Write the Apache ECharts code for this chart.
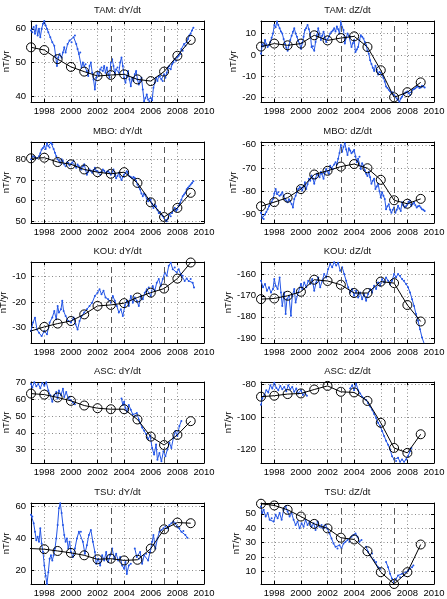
<!DOCTYPE html>
<html>
<head>
<meta charset="utf-8">
<script src="https://cdn.jsdelivr.net/npm/echarts@6/dist/echarts.min.js"></script>
<style>
html, body { margin: 0; padding: 0; background: #fff; }
#main { width: 447px; height: 599px; }
</style>
</head>
<body>
<div id="main"></div>
<script>
// annual means (circles) and monthly series (blue)
var annualYears = [1997, 1998, 1999, 2000, 2001, 2002, 2003, 2004, 2005, 2006, 2007, 2008, 2009];
var lateYears = [1996, 1998, 1999, 2000, 2001, 2002, 2003, 2004, 2005, 2006, 2007, 2008, 2009];
var xTicks = [1998, 2000, 2002, 2004, 2006, 2008, 2010];
var eventYears = [2003, 2007];

var tamDYAnnual = [54.5, 53.7, 51, 48.7, 47.3, 46, 46.3, 46.5, 45, 44.5, 47.3, 52, 56.7];
var tamDZAnnual = [3.9, 5.3, 4.5, 5.3, 9.2, 6.8, 7.9, 8.7, 3.7, -7.2, -19.9, -17.5, -12.9];
var mboDYAnnual = [80.5, 80.8, 78.7, 77.6, 75.1, 73.8, 73, 73.8, 68.6, 59.2, 52.1, 56.5, 63.8];
var mboDZAnnual = [-86.5, -84.7, -82.8, -79.1, -72.8, -71.2, -69.4, -68.3, -70.1, -75.1, -83.9, -85.4, -83.3];
var kouDYAnnual = [-32.9, -29.7, -28.4, -27.4, -24.8, -21.5, -21.1, -20.4, -18.2, -16.3, -14.7, -10.8, -4.5];
var kouDZAnnual = [-171.6, -171.3, -170, -168.1, -162.4, -163, -164.8, -168.7, -168.7, -163.3, -164, -174.4, -182.2];
var ascDYAnnual = [63.3, 62.7, 61, 59, 56.2, 54.6, 54, 54, 47.9, 37.7, 32.7, 38.7, 46.9];
var ascDZAnnual = [-87.6, -87, -86, -85.6, -83.2, -81, -84.6, -85, -90.2, -103.6, -119, -122, -110.6];
var tsuDYAnnual = [34.1, 33.3, 32.2, 31, 29.5, 27, 27.4, 26.3, 26.7, 33.7, 45.7, 49.9, 49.5];
var tsuDZAnnual = [57, 55.8, 52.8, 48.1, 43, 39.9, 33.4, 32.2, 24, 9.5, 1.3, 9.5, 28.7];

var tamDYMonthly = [[1997.0,59.5],[1997.1,59],[1997.2,60.5],[1997.3,58.5],[1997.4,61],[1997.5,58],[1997.6,60],[1997.7,57.5],[1997.8,60],[1997.9,61.5],[1998.0,62.3],[1998.1,61],[1998.2,60],[1998.3,59],[1998.45,57.5],[1998.6,56],[1998.75,55],[1998.85,52],[1998.95,49],[1999.05,51.5],[1999.15,52.5],[1999.3,51.5],[1999.4,53],[1999.5,54.5],[1999.6,53],[1999.75,55.5],[1999.9,56.5],[2000.05,56],[2000.2,57.5],[2000.3,58],[2000.4,55.5],[2000.5,54],[2000.6,52.5],[2000.7,53],[2000.8,48.5],[2000.9,50],[2001.0,49],[2001.1,49.5],[2001.2,47.5],[2001.3,46],[2001.4,49],[2001.5,50],[2001.6,47],[2001.7,45],[2001.8,42],[2001.9,45.5],[2002.0,47],[2002.1,46],[2002.2,48],[2002.3,48.5],[2002.4,47.5],[2002.5,49],[2002.6,47],[2002.7,48.5],[2002.8,46.5],[2002.9,45.5],[2003.0,50],[2003.1,51],[2003.2,49],[2003.3,46.5],[2003.4,48],[2003.5,48.5],[2003.6,47],[2003.7,50],[2003.8,51.5],[2003.9,49],[2004.0,45.5],[2004.1,44],[2004.2,46],[2004.3,47.5],[2004.4,45],[2004.5,43],[2004.6,45.5],[2004.7,44.5],[2004.8,46.5],[2004.9,47.5],[2005.0,45],[2005.1,43.5],[2005.2,44.5],[2005.3,45.5],[2005.4,42],[2005.5,38.5],[2005.6,39.5],[2005.7,40.5],[2005.8,39],[2005.9,38.5],[2006.0,39.5],[2006.1,38.8],[2006.2,42.5],[2006.3,44],[2006.4,45.5],[2006.5,44.5],[2006.6,46],[2006.7,46],[2006.8,45],[2006.9,44.5],[2007.0,46.5],[2007.1,45.5],[2007.2,47],[2007.3,48.5],[2007.4,49],[2007.5,48],[2007.6,49.5],[2007.7,50],[2007.8,51],[2007.9,50.5],[2008.0,51.5],[2008.1,52],[2008.2,52.5],[2008.3,54],[2008.4,53.5],[2008.5,55.5],[2008.6,55],[2008.7,56],[2008.8,57],[2008.9,58],[2009.0,58.5],[2009.1,59.5],[2009.2,60.3]];

var tamDZMonthly = [[1997.0,0.5],[1997.1,5],[1997.2,4],[1997.3,7],[1997.4,5],[1997.5,3.7],[1997.6,4.5],[1997.7,6],[1997.8,8],[1997.9,10],[1998.0,14],[1998.1,13],[1998.2,15.7],[1998.3,14],[1998.4,12.5],[1998.5,11],[1998.6,10],[1998.7,7.5],[1998.8,5.3],[1998.9,3.5],[1999.0,2],[1999.1,4.5],[1999.2,7],[1999.3,9],[1999.4,10.8],[1999.5,12.5],[1999.6,10],[1999.7,8.5],[1999.8,6.5],[1999.9,5.3],[2000.0,2.9],[2000.1,5.5],[2000.2,8.5],[2000.3,11.7],[2000.4,12.5],[2000.5,14],[2000.6,12],[2000.7,10],[2000.8,3.7],[2000.9,4],[2001.0,2],[2001.1,6],[2001.2,9.2],[2001.3,12.5],[2001.4,10],[2001.5,7],[2001.6,9],[2001.7,10.8],[2001.8,8],[2001.9,6],[2002.0,7.5],[2002.1,8.5],[2002.2,10],[2002.3,10.8],[2002.4,11.5],[2002.5,12.5],[2002.6,11],[2002.7,13.3],[2002.8,12],[2002.9,10],[2003.0,15.7],[2003.1,13],[2003.2,11.7],[2003.3,5.3],[2003.4,8],[2003.5,10],[2003.6,9],[2003.7,8.5],[2003.8,3.7],[2003.9,5.5],[2004.0,7],[2004.1,1.3],[2004.2,2.5],[2004.3,3.7],[2004.4,7],[2004.5,9.2],[2004.6,8.5],[2004.7,7.7],[2004.8,6],[2004.9,4.5],[2005.0,2],[2005.1,0.5],[2005.2,-2.5],[2005.3,-4.3],[2005.4,-6],[2005.5,-7.5],[2005.6,-5.1],[2005.7,-7],[2005.8,-9.2],[2005.9,-8],[2006.0,-8.4],[2006.1,-9.5],[2006.2,-10.8],[2006.3,-12.5],[2006.4,-14.8],[2006.5,-15.5],[2006.6,-16.4],[2006.7,-17],[2006.8,-18],[2006.9,-17.5],[2007.0,-18.8],[2007.1,-19.5],[2007.2,-20.5],[2007.3,-21],[2007.4,-22],[2007.5,-20.5],[2007.6,-19.6],[2007.7,-18.5],[2007.8,-18],[2007.9,-17.5],[2008.0,-17.2],[2008.1,-18],[2008.2,-18.8],[2008.3,-17.5],[2008.4,-16.4],[2008.5,-16],[2008.6,-15.6],[2008.7,-15],[2008.8,-14.8],[2008.9,-15.5],[2009.0,-15.3],[2009.1,-14.5],[2009.2,-14.8],[2009.3,-15.3]];

var mboDYMonthly = [[1997.0,80],[1997.15,81.5],[1997.3,81],[1997.45,80.5],[1997.6,81.5],[1997.7,83],[1997.8,84.8],[1997.9,85.5],[1998.0,86.5],[1998.1,85],[1998.2,87.8],[1998.3,86.5],[1998.4,85.7],[1998.5,88],[1998.6,87.3],[1998.7,85],[1998.8,83.2],[1998.9,81.5],[1999.0,80],[1999.1,79.5],[1999.2,78.4],[1999.3,80],[1999.4,79.2],[1999.5,77.5],[1999.6,76.7],[1999.7,78.5],[1999.8,78.4],[1999.9,77],[2000.0,77.6],[2000.1,78.5],[2000.2,79.2],[2000.3,77],[2000.4,75.9],[2000.5,77.5],[2000.6,76.7],[2000.7,75.5],[2000.8,75.1],[2000.9,76.5],[2001.0,77.6],[2001.1,75],[2001.2,72.6],[2001.3,74],[2001.4,75.1],[2001.5,74.5],[2001.6,73.5],[2001.7,74.8],[2001.8,75.9],[2001.9,74.5],[2002.0,74.3],[2002.1,73.5],[2002.2,72.6],[2002.3,74],[2002.4,75.1],[2002.5,74.5],[2002.6,73.5],[2002.7,74],[2002.8,74.3],[2002.9,73.5],[2003.0,72.6],[2003.1,74],[2003.2,75.1],[2003.3,72.5],[2003.4,70.8],[2003.5,72],[2003.6,73.5],[2003.7,71.5],[2003.8,70],[2003.9,71.5],[2004.0,72.6],[2004.1,73.5],[2004.2,74.3],[2004.3,73],[2004.4,71.8],[2004.5,71.5],[2004.6,70.8],[2004.7,71.5],[2004.8,71],[2004.9,69.5],[2005.0,67.8],[2005.1,66.5],[2005.2,65.4],[2005.3,63.5],[2005.4,62.2],[2005.5,63.5],[2005.6,62.9],[2005.7,61],[2005.8,59.7],[2005.9,61],[2006.0,60.5],[2006.1,58.5],[2006.2,56.5],[2006.3,58],[2006.4,57.3],[2006.5,55.5],[2006.6,54],[2006.7,54.5],[2006.8,53.3],[2006.9,52.5],[2007.0,51.6],[2007.1,50.5],[2007.2,50],[2007.3,51.5],[2007.4,53.3],[2007.5,52.5],[2007.6,54],[2007.7,55.5],[2007.8,56.5],[2007.9,55],[2008.0,55.7],[2008.1,57.5],[2008.2,58.9],[2008.3,60.5],[2008.4,62.2],[2008.5,63],[2008.6,63.8],[2008.7,65.5],[2008.8,66.3],[2008.9,67],[2009.0,67.8],[2009.1,68.5],[2009.2,69.4]];

var mboDZMonthly = [[1997.0,-89.3],[1997.1,-91.5],[1997.2,-92],[1997.3,-90],[1997.4,-89],[1997.5,-87.8],[1997.6,-86.5],[1997.7,-85.6],[1997.8,-84.5],[1997.9,-83.4],[1998.0,-81],[1998.1,-79],[1998.2,-81.2],[1998.3,-80.5],[1998.4,-82],[1998.5,-81.5],[1998.6,-80.4],[1998.7,-82],[1998.8,-83.4],[1998.9,-84],[1999.0,-84.8],[1999.1,-83.5],[1999.2,-84.1],[1999.3,-85.5],[1999.4,-87],[1999.5,-83.4],[1999.6,-82],[1999.7,-80.4],[1999.8,-79],[1999.9,-78.2],[2000.0,-78.5],[2000.1,-79.7],[2000.2,-78],[2000.3,-76.1],[2000.4,-79],[2000.5,-77],[2000.6,-74.6],[2000.7,-75.5],[2000.8,-73.2],[2000.9,-74.5],[2001.0,-76.8],[2001.1,-74.5],[2001.2,-72.5],[2001.3,-73],[2001.4,-74],[2001.5,-71.7],[2001.6,-72.5],[2001.7,-74.6],[2001.8,-72],[2001.9,-70.4],[2002.0,-71.5],[2002.1,-72.5],[2002.2,-69],[2002.3,-70],[2002.4,-70.4],[2002.5,-68.5],[2002.6,-67.5],[2002.7,-68.5],[2002.8,-66],[2002.9,-63.5],[2003.0,-60.1],[2003.1,-63],[2003.2,-61],[2003.3,-59.3],[2003.4,-62],[2003.5,-64.4],[2003.6,-61.5],[2003.7,-62.5],[2003.8,-63.7],[2003.9,-63],[2004.0,-62.2],[2004.1,-65],[2004.2,-67.5],[2004.3,-66],[2004.4,-65.2],[2004.5,-70.4],[2004.6,-68],[2004.7,-69],[2004.8,-71],[2004.9,-72.5],[2005.0,-73.5],[2005.1,-71.7],[2005.2,-74],[2005.3,-76.8],[2005.4,-75.5],[2005.5,-74.6],[2005.6,-79],[2005.7,-78],[2005.8,-76.8],[2005.9,-80],[2006.0,-82.7],[2006.1,-80.4],[2006.2,-82],[2006.3,-83.4],[2006.4,-87.8],[2006.5,-86.5],[2006.6,-85.6],[2006.7,-88],[2006.8,-89.3],[2006.9,-88],[2007.0,-87],[2007.1,-89.3],[2007.2,-88],[2007.3,-86.3],[2007.4,-87.5],[2007.5,-88.5],[2007.6,-84.8],[2007.7,-86],[2007.8,-87],[2007.9,-86.5],[2008.0,-85.6],[2008.1,-84.5],[2008.2,-84.1],[2008.3,-86.3],[2008.4,-85.5],[2008.5,-84.8],[2008.6,-86],[2008.7,-87],[2008.8,-86.5],[2008.9,-86.3],[2009.0,-87],[2009.1,-87.8],[2009.2,-88],[2009.3,-88.5]];

var kouDYMonthly = [[1997.0,-31.3],[1997.15,-28],[1997.3,-26.1],[1997.45,-30.7],[1997.6,-32],[1997.8,-33.3],[1998.0,-31.3],[1998.2,-32.6],[1998.4,-28],[1998.6,-26],[1998.75,-23.5],[1998.9,-26.7],[1999.0,-21.5],[1999.1,-24.1],[1999.25,-22.8],[1999.35,-19.5],[1999.45,-23.5],[1999.6,-25.4],[1999.8,-27.4],[2000.0,-28],[2000.2,-26],[2000.35,-28.7],[2000.5,-30.7],[2000.65,-27.4],[2000.8,-25.4],[2001.0,-24.1],[2001.2,-22.8],[2001.4,-21.5],[2001.6,-20.2],[2001.8,-17.6],[2002.0,-16.3],[2002.15,-15],[2002.3,-16.9],[2002.45,-15.6],[2002.6,-18.2],[2002.8,-18.9],[2003.0,-20.2],[2003.15,-17.6],[2003.3,-19.5],[2003.45,-21.5],[2003.6,-24.1],[2003.75,-22.8],[2003.9,-25.4],[2004.05,-21.5],[2004.2,-19.5],[2004.35,-21.5],[2004.5,-17.6],[2004.65,-20.2],[2004.8,-18.2],[2004.95,-19.5],[2005.1,-21.5],[2005.25,-17.6],[2005.4,-18.9],[2005.55,-16.3],[2005.7,-15],[2005.85,-14.3],[2006.0,-17.6],[2006.15,-13.7],[2006.3,-15.6],[2006.45,-12.4],[2006.6,-11],[2006.75,-13.7],[2006.9,-11],[2007.05,-8.4],[2007.2,-9.7],[2007.35,-5.8],[2007.5,-4.6],[2007.65,-7.1],[2007.8,-6.5],[2007.95,-8.4],[2008.1,-7.1],[2008.25,-9.1],[2008.4,-9.7],[2008.55,-11.7],[2008.7,-10.8],[2008.85,-11.7],[2009.0,-11],[2009.15,-12.4],[2009.25,-14.3]];

var kouDZMonthly = [[1997.0,-162.9],[1997.15,-166],[1997.3,-164.4],[1997.45,-167.6],[1997.6,-166],[1997.75,-168.4],[1997.9,-166.8],[1998.0,-162.1],[1998.1,-165.2],[1998.25,-166.8],[1998.4,-161.3],[1998.5,-168.4],[1998.6,-174.8],[1998.75,-168.4],[1998.85,-178.7],[1998.95,-171.6],[1999.1,-170],[1999.25,-179.5],[1999.35,-170],[1999.5,-166.8],[1999.6,-173.2],[1999.8,-168.4],[2000.0,-164.4],[2000.1,-166.8],[2000.25,-163.7],[2000.4,-166],[2000.55,-162.9],[2000.7,-164.4],[2000.85,-162.1],[2001.0,-167.6],[2001.15,-163.7],[2001.3,-161.3],[2001.45,-166],[2001.6,-162.9],[2001.75,-159.7],[2001.9,-161.3],[2002.05,-157.3],[2002.2,-155],[2002.35,-156.5],[2002.5,-154.1],[2002.65,-155.7],[2002.8,-154.4],[2002.95,-158.1],[2003.1,-156.5],[2003.25,-159.7],[2003.4,-162.9],[2003.55,-166],[2003.7,-168.4],[2003.85,-166.8],[2004.0,-170],[2004.15,-167.6],[2004.3,-170.8],[2004.45,-168.4],[2004.6,-171.6],[2004.75,-169.2],[2004.9,-172.4],[2005.05,-169.2],[2005.2,-166.8],[2005.35,-168.4],[2005.5,-165.2],[2005.65,-166.8],[2005.8,-163.7],[2005.95,-165.2],[2006.1,-162.1],[2006.25,-163.7],[2006.4,-161.3],[2006.55,-162.9],[2006.7,-164.4],[2006.85,-162.9],[2007.0,-159.7],[2007.15,-161.3],[2007.3,-159.7],[2007.45,-160.5],[2007.6,-162.1],[2007.75,-162.9],[2007.9,-164.4],[2008.05,-166],[2008.2,-168.4],[2008.35,-171.6],[2008.5,-174.8],[2008.65,-178.7],[2008.8,-181.9],[2008.95,-185.9],[2009.1,-189.8],[2009.25,-192.5]];

var ascDYMonthly = [[1997.0,69],[1997.1,67],[1997.25,70],[1997.4,67.7],[1997.55,69],[1997.7,66.5],[1997.85,69.6],[1998.0,68],[1998.15,70],[1998.3,65.2],[1998.45,62.3],[1998.6,58.5],[1998.75,62.3],[1998.9,64.2],[1999.0,60.4],[1999.1,65.2],[1999.25,62.3],[1999.4,66.2],[1999.5,61.3],[1999.65,64.2],[1999.8,60.4],[1999.9,61.3],[2000.0,59.4],[2000.15,58],[2000.3,56.9],[2002.0,null],[2003.8,60.4],[2003.9,56.5],[2004.0,58.5],[2004.1,54.6],[2004.2,52.7],[2004.35,56.5],[2004.5,53.7],[2004.65,50.8],[2004.8,49.8],[2004.95,51.7],[2005.1,47.9],[2005.2,46],[2005.35,43.1],[2005.5,41.2],[2005.65,39.2],[2005.8,36.3],[2005.95,38.3],[2006.1,31],[2006.25,27],[2006.4,33],[2006.5,24],[2006.65,28],[2006.8,23],[2006.95,29],[2007.1,26],[2007.25,30],[2007.4,34],[2007.55,31],[2007.7,37],[2007.85,41],[2008.0,38],[2008.15,44],[2008.3,47]];

var ascDZMonthly = [[1997.0,-92.6],[1997.1,-88.6],[1997.25,-86.6],[1997.4,-83.6],[1997.55,-85],[1997.7,-80.6],[1997.85,-82.6],[1998.0,-79],[1998.15,-82.2],[1998.3,-83.6],[1998.45,-81],[1998.6,-83],[1998.75,-81.6],[1998.9,-84.2],[1999.05,-80.6],[1999.2,-83],[1999.35,-81.6],[1999.5,-84.6],[1999.65,-82.6],[1999.8,-85.6],[2000.0,-83.6],[2000.15,-86.6],[2000.3,-85],[2000.45,-87],[2002.0,null],[2003.7,-82.6],[2003.85,-80.6],[2004.0,-83.6],[2004.15,-79.6],[2004.3,-83.6],[2004.45,-85.6],[2004.6,-87.6],[2004.75,-88.6],[2004.9,-89.6],[2005.05,-91.6],[2005.2,-93.6],[2005.35,-95.6],[2005.5,-98.2],[2005.65,-100.6],[2005.8,-103.6],[2005.95,-105.6],[2006.1,-108.6],[2006.25,-111.6],[2006.4,-114.6],[2006.55,-117],[2006.7,-120],[2006.85,-124],[2007.0,-126],[2007.15,-127],[2007.3,-125],[2007.45,-127.5],[2007.6,-126],[2007.75,-127.5],[2007.9,-126],[2008.05,-124],[2008.2,-121],[2008.3,-119]];

var tsuDYMonthly = [[1997.0,54.7],[1997.1,53.7],[1997.2,49.5],[1997.3,44.2],[1997.4,38.9],[1997.5,41],[1997.6,37.9],[1997.7,46.3],[1997.8,36.8],[1997.9,31.6],[1998.0,23.2],[1998.1,16.8],[1998.2,11.6],[1998.3,19],[1998.4,27.4],[1998.5,29.5],[1998.6,26.3],[1998.7,29.5],[1998.8,33.7],[1998.9,40],[1999.0,48.4],[1999.1,58.9],[1999.2,62],[1999.3,55.8],[1999.4,48.4],[1999.5,42.1],[1999.6,37.9],[1999.7,40],[1999.8,33.7],[1999.9,37.9],[2000.0,31.6],[2000.15,28.4],[2000.3,33.7],[2000.45,40],[2000.6,44.2],[2000.75,44.2],[2000.9,37.9],[2001.05,30.5],[2001.2,35.8],[2001.35,42.1],[2001.5,45.3],[2001.65,37.9],[2001.8,31.6],[2001.9,24.2],[2002.05,27.4],[2002.2,23.2],[2002.35,29.5],[2002.5,26.3],[2002.65,31.6],[2002.8,25.3],[2002.95,29.5],[2003.1,33.7],[2003.25,27.4],[2003.4,30.5],[2003.55,26.3],[2003.7,28.4],[2003.85,23.2],[2004.0,21.1],[2004.1,25.3],[2004.2,17.9],[2004.35,23.2],[2004.5,24.2],[2004.65,null],[2004.8,33.7],[2004.95,28.4],[2005.1,27.4],[2005.2,31.6],[2005.35,24.2],[2005.5,29.5],[2005.65,30.5],[2005.8,26.3],[2005.95,31.6],[2006.1,37.9],[2006.2,42.1],[2006.35,33.7],[2006.5,40],[2006.65,44.2],[2006.8,45.3],[2006.95,46.3],[2007.1,47.4],[2007.25,46.3],[2007.4,48.4],[2007.55,49.5],[2007.7,50.5],[2007.85,49.5],[2008.0,47.4],[2008.15,46.3],[2008.3,44.2],[2008.45,44.6],[2008.6,42.1],[2008.75,40.4]];

var tsuDZMonthly = [[1997.0,55.1],[1997.1,50.5],[1997.2,52.8],[1997.35,48.1],[1997.5,50.5],[1997.65,45.8],[1997.8,47],[1997.95,44.6],[1998.1,49.3],[1998.25,47],[1998.4,50.5],[1998.55,45.8],[1998.7,52.8],[1998.85,55.1],[1999.0,51.6],[1999.15,48.1],[1999.3,50.5],[1999.45,45.8],[1999.6,42.3],[1999.75,44.6],[1999.9,39.9],[2000.05,43.4],[2000.2,41.1],[2000.35,45.8],[2000.5,42.3],[2000.65,44.6],[2000.8,41.1],[2000.95,43.4],[2001.1,38.8],[2001.25,44.6],[2001.4,41.1],[2001.55,42.3],[2001.7,39.9],[2001.85,42.3],[2002.0,39.5],[2002.15,36.4],[2002.3,32.9],[2002.45,29.4],[2002.6,27.1],[2002.75,25.9],[2002.9,28.2],[2003.05,25.9],[2003.2,29.4],[2003.35,30.6],[2003.5,31.8],[2003.65,30.6],[2003.8,34.1],[2003.95,35.3],[2004.1,36.4],[2004.25,34.1],[2004.4,30.6],[2004.55,31.8],[2004.75,null],[2004.9,27.1],[2005.05,23.6],[2005.2,21.2],[2005.35,22.4],[2005.5,17.7],[2005.65,16.5],[2005.8,13],[2005.95,11.9],[2006.2,null],[2006.4,16.5],[2006.55,13],[2006.7,8.4],[2006.85,4.9],[2007.0,2.5],[2007.15,4.9],[2007.3,7.2],[2007.45,6],[2007.6,8.4],[2007.75,7.2],[2007.9,9.5],[2008.05,10.7],[2008.2,11.9],[2008.35,13],[2008.45,14.2]];

// panel setup: which data goes where, y ticks and limits
var panels = [
    {title: 'TAM: dY/dt', col: 0, row: 0, blue: tamDYMonthly, years: annualYears, annual: tamDYAnnual, ticks: [40, 50, 60], min: 38.3, max: 62.3, gap: 17},
    {title: 'TAM: dZ/dt', col: 1, row: 0, blue: tamDZMonthly, years: annualYears, annual: tamDZAnnual, ticks: [-20, -10, 0, 10], min: -22.1, max: 15.9, gap: 22},
    {title: 'MBO: dY/dt', col: 0, row: 1, blue: mboDYMonthly, years: annualYears, annual: mboDYAnnual, ticks: [50, 60, 70, 80], min: 49.2, max: 88.4, gap: 17},
    {title: 'MBO: dZ/dt', col: 1, row: 1, blue: mboDZMonthly, years: annualYears, annual: mboDZAnnual, ticks: [-90, -80, -70, -60], min: -93.7, max: -58.8, gap: 22},
    {title: 'KOU: dY/dt', col: 0, row: 2, blue: kouDYMonthly, years: lateYears, annual: kouDYAnnual, ticks: [-30, -20, -10], min: -36, max: -4.3, gap: 22},
    {title: 'KOU: dZ/dt', col: 1, row: 2, blue: kouDZMonthly, years: annualYears, annual: kouDZAnnual, ticks: [-190, -180, -170, -160], min: -192.4, max: -154, gap: 27},
    {title: 'ASC: dY/dt', col: 0, row: 3, blue: ascDYMonthly, years: annualYears, annual: ascDYAnnual, ticks: [30, 40, 50, 60, 70], min: 22, max: 70.2, gap: 17},
    {title: 'ASC: dZ/dt', col: 1, row: 3, blue: ascDZMonthly, years: annualYears, annual: ascDZAnnual, ticks: [-120, -100, -80], min: -128.2, max: -78.6, gap: 27},
    {title: 'TSU: dY/dt', col: 0, row: 4, blue: tsuDYMonthly, years: lateYears, annual: tsuDYAnnual, ticks: [20, 40, 60], min: 11.6, max: 62.1, gap: 17},
    {title: 'TSU: dZ/dt', col: 1, row: 4, blue: tsuDZMonthly, years: annualYears, annual: tsuDZAnnual, ticks: [10, 20, 30, 40, 50], min: 1.3, max: 57.5, gap: 17}
];

var colLeft = [31, 261];
var rowTop = [21, 142, 262, 382, 503];
var plotW = 173, plotH = 81;
var font = '"Liberation Sans", Arial, Helvetica, sans-serif';

var chart = echarts.init(document.getElementById('main'));

function plain(v) {
    return String(v);
}

/**
 * 组装一个小图: grid + 上下左右坐标轴 + 两条线
 */
function buildOption() {
    var grids = [], xAxes = [], yAxes = [], series = [], texts = [];

    panels.forEach(function (p, i) {
        var left = colLeft[p.col], top = rowTop[p.row];
        grids.push({left: left, top: top, width: plotW, height: plotH, outerBoundsMode: 'none', containLabel: false});

        var tick = {show: true, inside: true, length: 3, lineStyle: {color: '#000', width: 1}};
        var line = {show: true, onZero: false, lineStyle: {color: '#000', width: 1}};
        var dotted = {show: true, lineStyle: {color: '#8a8a8a', width: 1, type: [1, 2.5]}};

        // bottom + top
        xAxes.push({
            type: 'value', gridIndex: i, position: 'bottom', min: 1997, max: 2010,
            axisLine: line,
            axisTick: echarts.util.extend({customValues: xTicks}, tick),
            axisLabel: {customValues: xTicks, formatter: plain, fontSize: 9.5, color: '#000', fontFamily: font, margin: 4},
            splitLine: dotted
        });
        xAxes.push({
            type: 'value', gridIndex: i, position: 'top', min: 1997, max: 2010,
            axisLine: line,
            axisTick: echarts.util.extend({customValues: xTicks}, tick),
            axisLabel: {show: false},
            splitLine: {show: false}
        });
        // left + right
        yAxes.push({
            type: 'value', gridIndex: i, position: 'left', min: p.min, max: p.max,
            axisLine: line,
            axisTick: echarts.util.extend({customValues: p.ticks}, tick),
            axisLabel: {customValues: p.ticks, formatter: plain, fontSize: 9.5, color: '#000', fontFamily: font, margin: 5},
            splitLine: dotted,
            name: 'nT/yr', nameLocation: 'middle', nameGap: p.gap,
            nameTextStyle: {fontSize: 9.5, color: '#000', fontFamily: font}
        });
        yAxes.push({
            type: 'value', gridIndex: i, position: 'right', min: p.min, max: p.max,
            axisLine: line,
            axisTick: echarts.util.extend({customValues: p.ticks}, tick),
            axisLabel: {show: false},
            splitLine: {show: false}
        });

        // monthly values: thin blue line with small dots
        series.push({
            type: 'line', xAxisIndex: 2 * i, yAxisIndex: 2 * i,
            data: p.blue, connectNulls: false,
            symbol: 'circle', symbolSize: 2, showSymbol: true, showAllSymbol: true,
            itemStyle: {color: '#2456e6'},
            lineStyle: {color: '#2456e6', width: 1},
            emphasis: {disabled: true}, z: 2,
            markLine: {
                silent: true, symbol: ['none', 'none'], label: {show: false},
                lineStyle: {color: '#555', width: 1, type: [6, 4]},
                data: eventYears.map(function (y) { return {xAxis: y}; })
            }
        });
        // annual means: black line with open circles
        series.push({
            type: 'line', xAxisIndex: 2 * i, yAxisIndex: 2 * i,
            data: p.years.map(function (y, k) { return [y, p.annual[k]]; }),
            symbol: 'circle', symbolSize: 9, showAllSymbol: true,
            lineStyle: {color: '#000', width: 1},
            itemStyle: {color: 'rgba(0,0,0,0)', borderColor: '#000', borderWidth: 1},
            emphasis: {disabled: true}, z: 3
        });

        texts.push({
            type: 'text', x: left + plotW / 2, y: top - 11,
            style: {text: p.title, fill: '#111', font: '9.5px ' + font, align: 'center', verticalAlign: 'middle'}
        });
    });

    return {
        animation: false,
        backgroundColor: '#fff',
        grid: grids,
        xAxis: xAxes,
        yAxis: yAxes,
        series: series,
        graphic: texts
    };
}

chart.setOption(buildOption());
</script>
</body>
</html>
